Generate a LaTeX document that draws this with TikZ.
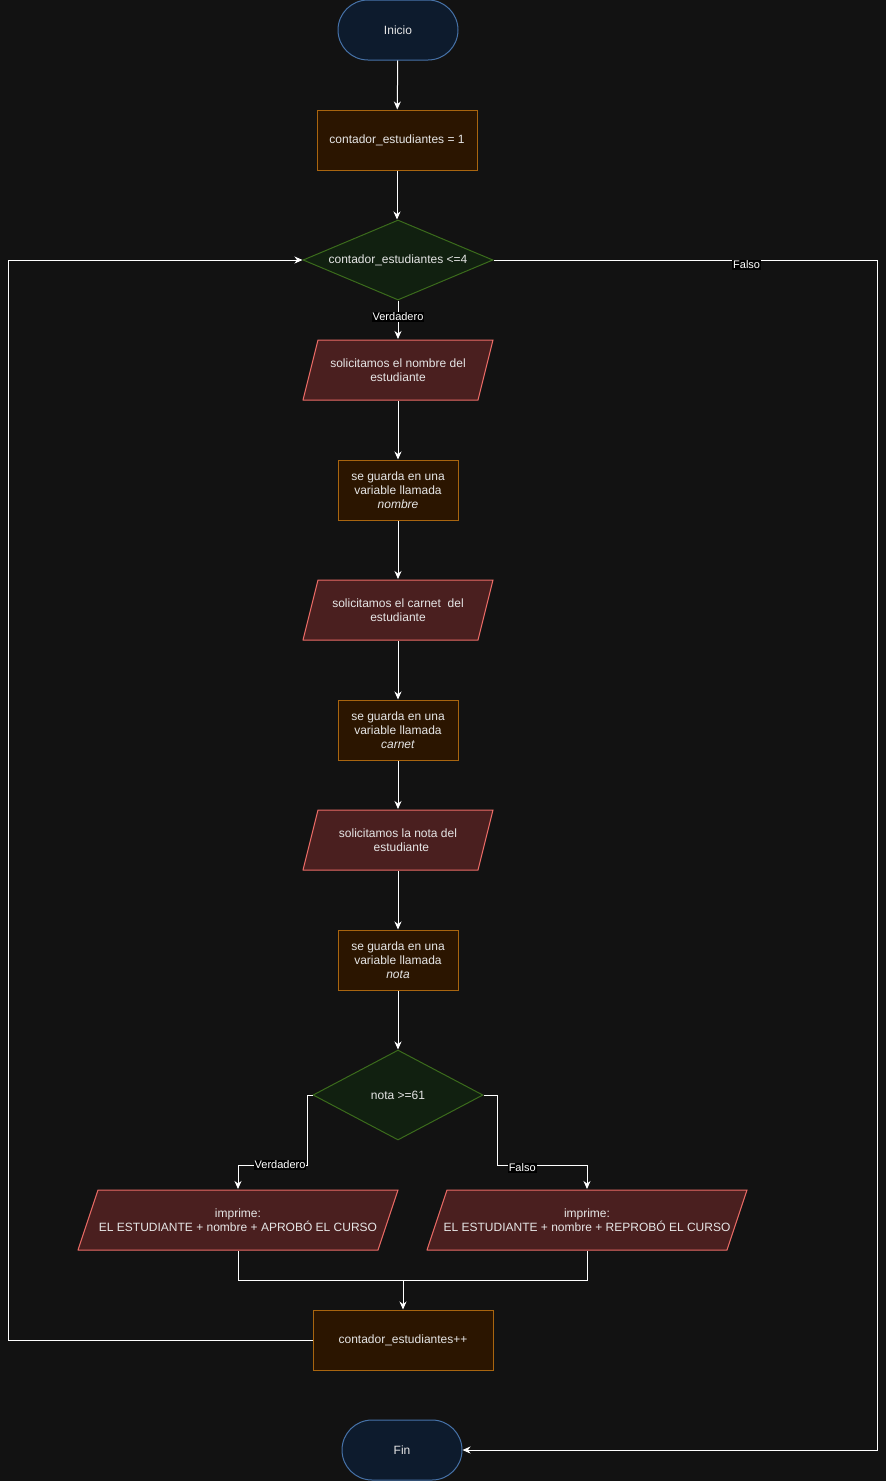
\documentclass[tikz,border=0pt]{standalone}
\usepackage{fontspec}
\setmainfont{Liberation Sans}
\usetikzlibrary{shapes.geometric,arrows.meta}
\definecolor{bgc}{HTML}{121212}
\definecolor{termfill}{HTML}{0D1B2D}
\definecolor{termdraw}{HTML}{4672A8}
\definecolor{procfill}{HTML}{2B1500}
\definecolor{procdraw}{HTML}{A8650F}
\definecolor{decfill}{HTML}{112010}
\definecolor{decdraw}{HTML}{3B6B1C}
\definecolor{iofill}{HTML}{4A1F1F}
\definecolor{iodraw}{HTML}{EA6B66}
\definecolor{txt}{HTML}{E6E6E6}
\tikzset{
  base/.style={text=txt, font=\fontsize{12}{14}\selectfont, align=center, line width=1pt, inner sep=0pt},
  term/.style={base, rectangle, rounded corners=30pt, fill=termfill, draw=termdraw, minimum width=120pt, minimum height=60pt},
  proc/.style={base, rectangle, fill=procfill, draw=procdraw, minimum height=60pt},
  dec/.style={base, diamond, aspect=2.4, fill=decfill, draw=decdraw},
  io/.style={base, rectangle, draw=none, minimum height=61pt,
    path picture={\path[fill=iofill, draw=iodraw, line width=1pt]
      ([xshift=#1pt+0.5pt, yshift=-0.5pt]path picture bounding box.north west) --
      ([xshift=-0.5pt, yshift=-0.5pt]path picture bounding box.north east) --
      ([xshift=-#1pt-0.5pt, yshift=0.5pt]path picture bounding box.south east) --
      ([xshift=0.5pt, yshift=0.5pt]path picture bounding box.south west) -- cycle;}},
  conn/.style={draw=white, line width=1pt, -{Stealth[length=8pt,width=7pt,inset=2.5pt]}},
  line/.style={draw=white, line width=1pt},
  lbl/.style={fill=black, text=white, font=\fontsize{11}{12}\selectfont, inner sep=1pt}
}
\begin{document}
\begin{tikzpicture}[x=1pt,y=-1pt]
\fill[bgc] (0,0) rectangle (886,1481);
\useasboundingbox (0,0) rectangle (886,1481);

\node[term] (inicio) at (398,30) {Inicio};
\node[proc, minimum width=160pt] (c1) at (397,140) {contador\_estudiantes = 1};
\node[dec, minimum width=190pt, minimum height=80pt] (d1) at (398,260) {contador\_estudiantes <=4};
\node[io=15, minimum width=191pt] (io1) at (398,370) {solicitamos el nombre del\\estudiante};
\node[proc, minimum width=120pt] (p2) at (398,490) {se guarda en una\\variable llamada\\\textit{nombre}};
\node[io=15, minimum width=191pt] (io2) at (398,610) {solicitamos el carnet\ \ del\\estudiante};
\node[proc, minimum width=120pt] (p3) at (398,730) {se guarda en una\\variable llamada\\\textit{carnet}};
\node[io=15, minimum width=191pt] (io3) at (398,840) {solicitamos la nota del\\\ \ estudiante};
\node[proc, minimum width=120pt] (p4) at (398,960) {se guarda en una\\variable llamada\\\textit{nota}};
\node[dec, minimum width=170pt, minimum height=90pt] (d2) at (398,1095) {nota >=61};
\node[io=20, minimum width=321pt] (io4) at (238,1220) {imprime:\\EL ESTUDIANTE + nombre + APROBÓ EL CURSO};
\node[io=20, minimum width=321pt] (io5) at (587,1220) {imprime:\\EL ESTUDIANTE + nombre + REPROBÓ EL CURSO};
\node[proc, minimum width=180pt] (inc) at (403,1340) {contador\_estudiantes++};
\node[term] (fin) at (402,1450) {Fin};

\coordinate (fr1) at (877,260);
\coordinate (fr2) at (877,1450);
\coordinate (vl1) at (307,1095);
\coordinate (vl2) at (307,1165);
\coordinate (vl3) at (238,1165);
\coordinate (fa1) at (497,1095);
\coordinate (fa2) at (497,1165);
\coordinate (fa3) at (587,1165);
\coordinate (m1) at (238,1280);
\coordinate (m2) at (587,1280);
\coordinate (mm) at (403,1280);
\coordinate (lp1) at (8,1340);
\coordinate (lp2) at (8,260);

\draw[conn] (inicio) -- (c1);
\draw[conn] (c1.south) -- (c1.south |- d1.north);
\draw[conn] (d1) -- node[lbl, pos=0.42] {Verdadero} (io1);
\draw[conn] (d1.east) -- node[lbl, pos=0.66, yshift=-5pt] {Falso} (fr1) -- (fr2) -- (fin.east);
\draw[conn] (io1) -- (p2);
\draw[conn] (p2) -- (io2);
\draw[conn] (io2) -- (p3);
\draw[conn] (p3) -- (io3);
\draw[conn] (io3) -- (p4);
\draw[conn] (p4) -- (d2);
\draw[conn] (d2.west) -- (vl1) -- (vl2) -- node[lbl, pos=0.39] {Verdadero} (vl3) -- (io4.north);
\draw[conn] (d2.east) -- (fa1) -- (fa2) -- node[lbl, pos=0.28, yshift=-3pt] {Falso} (fa3) -- (io5.north);
\draw[line] (io4.south) -- (m1) -- (m2) -- (io5.south);
\draw[conn] (mm) -- (inc.north);
\draw[conn] (inc.west) -- (lp1) -- (lp2) -- (d1.west);
\end{tikzpicture}
\end{document}
